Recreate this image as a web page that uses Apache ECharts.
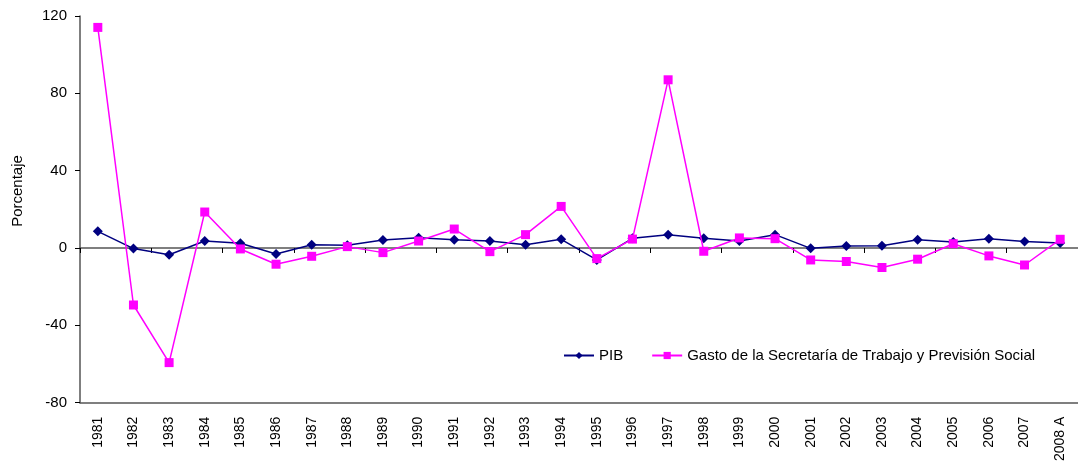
<!DOCTYPE html>
<html>
<head>
<meta charset="utf-8">
<script src="https://cdn.jsdelivr.net/npm/echarts@6/dist/echarts.min.js"></script>
<style>
  html, body { margin: 0; padding: 0; background: #fff; }
  #chart { width: 1078px; height: 464px; }
</style>
</head>
<body>
<div id="chart"></div>
<script>
// años (eje de categorías)
const years = ['1981', '1982', '1983', '1984', '1985', '1986', '1987', '1988', '1989', '1990',
  '1991', '1992', '1993', '1994', '1995', '1996', '1997', '1998', '1999', '2000',
  '2001', '2002', '2003', '2004', '2005', '2006', '2007', '2008 A']
// variación del PIB (%)
const pib = [8.6, -0.3, -3.5, 3.6, 2.4, -3.1, 1.7, 1.4, 4.1, 5.3,
  4.3, 3.6, 1.7, 4.5, -6.2, 5.0, 6.9, 5.0, 3.6, 6.9,
  -0.2, 1.0, 1.2, 4.3, 3.1, 4.8, 3.4, 2.6]
// variación del gasto de la STPS (%)
const gasto = [114.1, -29.5, -59.3, 18.6, -0.5, -8.4, -4.3, 0.7, -2.4, 3.6,
  9.8, -1.9, 6.9, 21.5, -5.5, 4.6, 87.0, -1.7, 5.2, 4.8,
  -6.2, -7.0, -10.1, -5.8, 2.2, -4.1, -8.8, 4.5]

const font = 'Liberation Sans, Arial, sans-serif'
const axisColor = '#555'

const chart = echarts.init(document.getElementById('chart'))
chart.setOption({
  animation: false,
  textStyle: { fontFamily: font },
  grid: { left: 80, right: -12, top: 16, bottom: 60 },
  legend: {
    left: 558,
    top: 343,
    itemWidth: 30,
    itemHeight: 9,
    itemGap: 28,
    textStyle: { fontSize: 15, color: '#000', fontFamily: font },
    data: ['PIB', 'Gasto de la Secretaría de Trabajo y Previsión Social']
  },
  graphic: [
    {
      type: 'text',
      x: 18,
      y: 191,
      rotation: Math.PI / 2,
      style: {
        text: 'Porcentaje',
        fontSize: 15,
        fontFamily: font,
        fill: '#000',
        align: 'center',
        verticalAlign: 'middle'
      }
    }
  ],
  xAxis: [
    {
      // línea del cero con marcas
      type: 'category',
      data: years,
      axisLine: { onZero: true, lineStyle: { color: axisColor, width: 1.5 } },
      axisTick: { show: true, length: 5, lineStyle: { color: '#000' } },
      axisLabel: { show: false },
      splitLine: { show: false }
    },
    {
      // etiquetas abajo
      type: 'category',
      data: years,
      position: 'bottom',
      axisLine: { onZero: false, lineStyle: { color: axisColor, width: 1.5 } },
      axisTick: { show: false },
      axisLabel: {
        interval: 0,
        rotate: 90,
        margin: 14,
        fontSize: 14,
        color: '#000',
        fontFamily: font
      }
    }
  ],
  yAxis: {
    type: 'value',
    min: -80,
    max: 120,
    interval: 40,
    axisLine: { show: true, lineStyle: { color: axisColor, width: 1.5 } },
    axisTick: { show: true, length: 5, lineStyle: { color: '#000' } },
    axisLabel: { fontSize: 15, color: '#000', margin: 13, fontFamily: font },
    splitLine: { show: false }
  },
  series: [
    {
      name: 'PIB',
      type: 'line',
      data: pib,
      symbol: 'diamond',
      symbolSize: 10,
      itemStyle: { color: '#000080' },
      lineStyle: { color: '#000080', width: 1.5 },
      z: 3
    },
    {
      name: 'Gasto de la Secretaría de Trabajo y Previsión Social',
      type: 'line',
      data: gasto,
      symbol: 'rect',
      symbolSize: 9,
      itemStyle: { color: '#ff00ff' },
      lineStyle: { color: '#ff00ff', width: 1.5 },
      z: 4
    }
  ]
})
</script>
</body>
</html>
